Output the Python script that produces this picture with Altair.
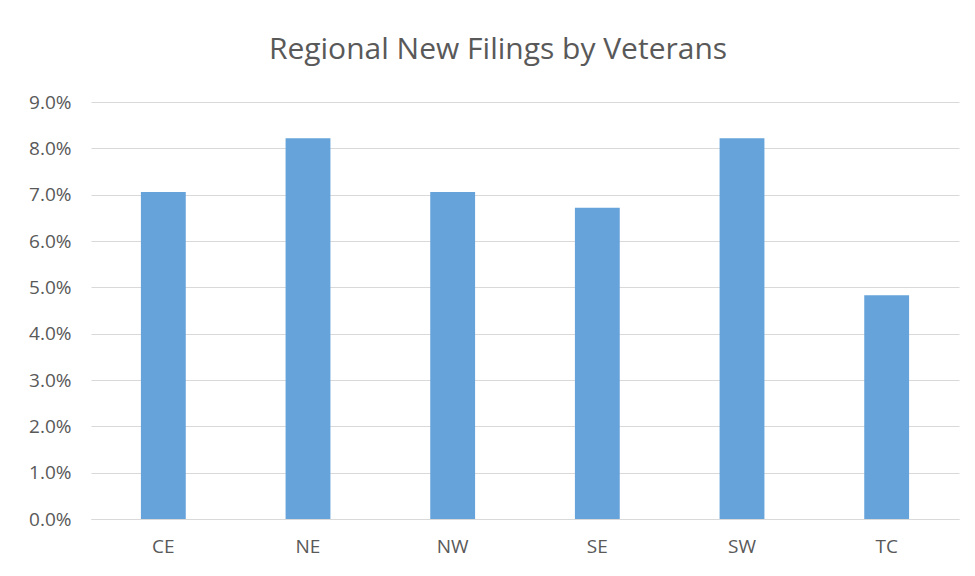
import altair as alt
import pandas as pd

regions = ["CE", "NE", "NW", "SE", "SW", "TC"]
shares = [0.0706, 0.0822, 0.0706, 0.0672, 0.0822, 0.0483]
y_ticks = [0.0, 0.01, 0.02, 0.03, 0.04, 0.05, 0.06, 0.07, 0.08, 0.09]

df = pd.DataFrame({"region": regions, "share": shares})

FONT = "Open Sans"
TEXT = "#595959"
GRID = "#D9D9D9"

chart = alt.Chart(df).mark_bar(color="#65A3DA").encode(
    x=alt.X("region:N", sort=regions, title=None,
            scale=alt.Scale(paddingInner=0.69, paddingOuter=0.345),
            axis=alt.Axis(labelAngle=0, ticks=False, domainColor=GRID, domainWidth=1,
                          labelPadding=18, labelFontSize=19, labelColor=TEXT,
                          labelFont=FONT, grid=False)),
    y=alt.Y("share:Q", title=None,
            scale=alt.Scale(domain=[0, 0.09], nice=False),
            axis=alt.Axis(values=y_ticks, format=".1%", ticks=False, domain=False,
                          gridColor=GRID, gridWidth=1, labelPadding=20,
                          labelFontSize=19, labelColor=TEXT, labelFont=FONT)),
).properties(
    width=868,
    height=417,
    background="white",
    title=alt.TitleParams("Regional New Filings by Veterans", font=FONT, fontSize=30,
                          fontWeight="normal", color=TEXT, anchor="middle",
                          frame="group", dx=-27, offset=28),
    autosize=alt.AutoSizeParams(type="none"),
    padding={"left": 83, "top": 94, "right": 8, "bottom": 49},
).configure_view(stroke=None)

chart.save("out.html", embed_options={"renderer": "svg", "actions": False})
